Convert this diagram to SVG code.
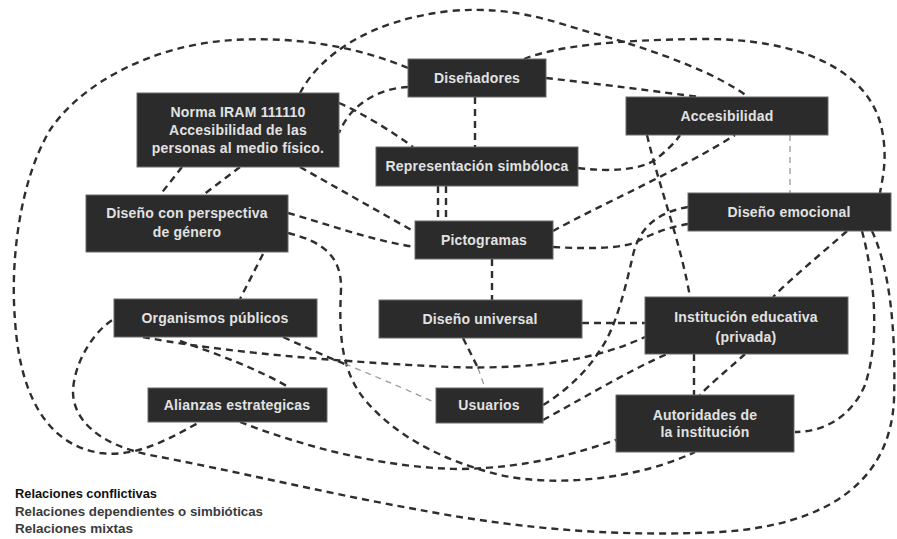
<svg xmlns="http://www.w3.org/2000/svg" width="897" height="539" viewBox="0 0 897 539">
<style>
.bg{fill:#ffffff}
.box{fill:#2b2b2b;stroke:#6a6a6a;stroke-width:1}
.t{font-family:"Liberation Sans",Arial,sans-serif;font-size:14px;font-weight:bold;fill:#e2e2e2;text-anchor:middle;letter-spacing:0.2px}
.c{fill:none;stroke:#2e2e2e;stroke-width:2.4;stroke-dasharray:7 5}
.l{fill:none;stroke:#999;stroke-width:1.3;stroke-dasharray:6 5}
.lg{font-family:"Liberation Sans",Arial,sans-serif;font-size:13px;font-weight:bold}
</style>
<rect class="bg" x="0" y="0" width="897" height="539"/>
<g id="connectors">
<path class="c" d="M408,68 C360,48 300,36 233,40 C150,45 80,85 50,130 C20,180 10,260 15,320 C20,400 50,445 100,453 C140,458 175,435 200,422"/>
<path class="c" d="M300,93 C320,55 370,20 450,11 C520,5 560,25 600,35 C660,52 720,75 748,97"/>
<path class="c" d="M524,59 C560,45 620,40 700,39 C800,38 870,70 882,130 C888,160 882,180 880,193"/>
<path class="c" d="M408,87 C385,88 365,98 352,112 C345,120 341,128 339,133"/>
<path class="c" d="M339,103 C360,112 390,130 413,147"/>
<path class="c" d="M300,167 L415,232"/>
<path class="c" d="M182,167 L160,195"/>
<path class="c" d="M240,167 L203,195"/>
<path class="c" d="M288,213 C330,225 370,240 415,247"/>
<path class="c" d="M288,233 C325,242 342,258 341,290 C339,330 340,370 365,400 C395,435 440,460 500,475 C560,488 640,478 695,452"/>
<path class="c" d="M263,254 L240,299"/>
<path class="c" d="M475,97 L475,147"/>
<path class="c" d="M546,78 C600,84 660,92 700,97"/>
<path class="c" d="M438,186 L438,221"/>
<path class="c" d="M446,186 L446,221"/>
<path class="c" d="M578,168 C610,172 640,170 655,160 C665,152 675,143 680,135"/>
<path class="c" d="M553,231 C600,205 680,170 735,135"/>
<path class="c" d="M553,247 C590,249 625,249 640,240 C655,232 675,226 688,224"/>
<path class="c" d="M688,207 C660,212 640,225 633,255 C625,290 615,330 600,350 C585,375 560,395 543,405"/>
<path class="c" d="M647,135 C660,190 680,240 690,297"/>
<path class="l" d="M790,135 L790,193"/>
<path class="c" d="M847,231 C820,255 795,275 773,297"/>
<path class="c" d="M862,231 C875,280 880,340 865,385 C850,420 820,432 795,432"/>
<path class="c" d="M872,231 C890,270 896,330 894,400 C890,480 830,525 720,532 C600,538 500,525 420,510 C330,494 230,470 150,455 C100,445 72,420 73,390 C75,360 95,330 114,319"/>
<path class="c" d="M492,259 L492,300"/>
<path class="c" d="M463,338 C470,352 475,362 478,368"/>
<path class="l" d="M478,368 L485,388"/>
<path class="c" d="M582,323 L645,323"/>
<path class="c" d="M143,337 C200,348 300,360 450,367 C540,370 600,358 645,337"/>
<path class="c" d="M283,337 C305,347 325,356 345,364"/>
<path class="l" d="M345,364 C375,376 405,389 436,403"/>
<path class="c" d="M180,341 C220,355 260,370 290,388"/>
<path class="c" d="M240,422 C300,445 380,468 460,469 C530,468 580,452 616,440"/>
<path class="c" d="M543,420 C580,400 630,370 667,354"/>
<path class="c" d="M694,354 L694,395"/>
<path class="c" d="M745,354 C730,368 712,382 700,395"/>
</g>
<g id="disenadores"><rect class="box" x="408" y="59" width="138" height="38"/><text class="t" x="477" y="83">Diseñadores</text></g>
<g id="norma"><rect class="box" x="137" y="93" width="202" height="74"/><text class="t" x="238" y="117">Norma IRAM 111110</text><text class="t" x="238" y="135">Accesibilidad de las</text><text class="t" x="238" y="153">personas al medio físico.</text></g>
<g id="accesibilidad"><rect class="box" x="626" y="97" width="202" height="38"/><text class="t" x="727" y="121">Accesibilidad</text></g>
<g id="representacion"><rect class="box" x="376" y="147" width="202" height="39"/><text class="t" x="477" y="171">Representación simbóloca</text></g>
<g id="genero"><rect class="box" x="86" y="195" width="202" height="57"/><text class="t" x="187" y="218">Diseño con perspectiva</text><text class="t" x="187" y="237">de género</text></g>
<g id="pictogramas"><rect class="box" x="415" y="221" width="138" height="38"/><text class="t" x="484" y="245">Pictogramas</text></g>
<g id="emocional"><rect class="box" x="688" y="193" width="203" height="38"/><text class="t" x="789" y="217">Diseño emocional</text></g>
<g id="organismos"><rect class="box" x="114" y="299" width="203" height="38"/><text class="t" x="215" y="323">Organismos públicos</text></g>
<g id="universal"><rect class="box" x="379" y="300" width="203" height="38"/><text class="t" x="480" y="324">Diseño universal</text></g>
<g id="institucion"><rect class="box" x="645" y="297" width="203" height="57"/><text class="t" x="746" y="322">Institución educativa</text><text class="t" x="746" y="342">(privada)</text></g>
<g id="alianzas"><rect class="box" x="148" y="388" width="179" height="34"/><text class="t" x="237" y="410">Alianzas estrategicas</text></g>
<g id="usuarios"><rect class="box" x="436" y="388" width="107" height="35"/><text class="t" x="489" y="410">Usuarios</text></g>
<g id="autoridades"><rect class="box" x="616" y="395" width="178" height="57"/><text class="t" x="705" y="420">Autoridades de</text><text class="t" x="705" y="437">la institución</text></g>
<g id="legend">
<text class="lg" x="15" y="498" fill="#111" textLength="142" lengthAdjust="spacingAndGlyphs">Relaciones conflictivas</text>
<text class="lg" x="15" y="516" fill="#3a3a3a" textLength="248" lengthAdjust="spacingAndGlyphs">Relaciones dependientes o simbióticas</text>
<text class="lg" x="15" y="533" fill="#3a3a3a" textLength="118" lengthAdjust="spacingAndGlyphs">Relaciones mixtas</text>
</g>
</svg>
